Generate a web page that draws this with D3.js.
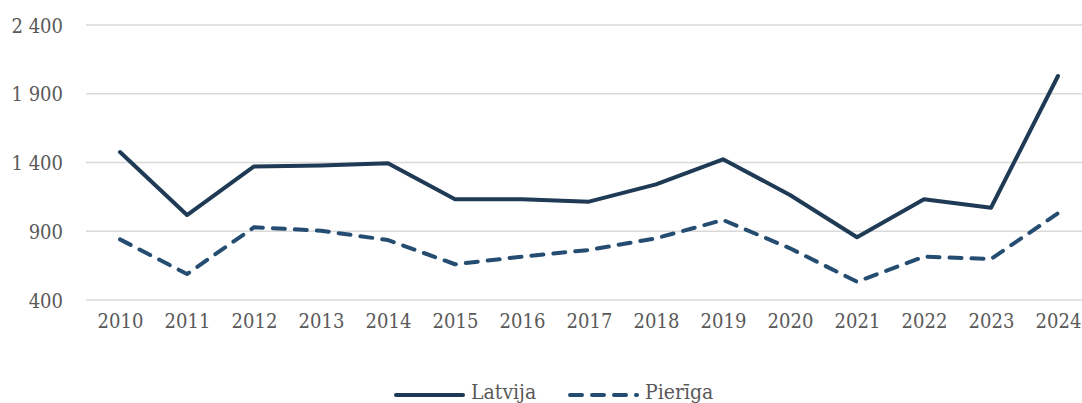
<!DOCTYPE html>
<html>
<head>
<meta charset="utf-8">
<script src="https://cdn.jsdelivr.net/npm/d3@7"></script>
<style>
  body { margin: 0; background: #fff; }
  text { font-family: "DejaVu Serif Condensed", "DejaVu Serif", serif; fill: #595959; }
</style>
</head>
<body>
<script>
var width = 1082;
var height = 403;

var years = ["2010", "2011", "2012", "2013", "2014", "2015", "2016", "2017",
  "2018", "2019", "2020", "2021", "2022", "2023", "2024"];
var latvija = [1476, 1018, 1371, 1378, 1394, 1132, 1132, 1115, 1241, 1423, 1164, 856, 1132, 1071, 2029];
var pieriga = [841, 589, 929, 904, 836, 660, 715, 764, 849, 982, 776, 533, 715, 698, 1031];
var yTicks = [400, 900, 1400, 1900, 2400];
var seriesNames = ["Latvija", "Pierīga"];

var xScale = d3.scalePoint()
               .domain(years)
               .range([120, 1058]);

var yScale = d3.scaleLinear()
               .domain([400, 2400])
               .range([300, 25]);

var svg = d3.select("body")
            .append("svg")
            .attr("width", width)
            .attr("height", height);

// gridlines
svg.append("g")
   .selectAll("line")
   .data(yTicks)
   .enter()
   .append("line")
   .attr("x1", 86)
   .attr("x2", width)
   .attr("y1", function(d){ return yScale(d); })
   .attr("y2", function(d){ return yScale(d); })
   .attr("stroke", "#d9d9d9")
   .attr("stroke-width", 1.5);

// y labels, space as thousands separator
var fmt = function(d){ return d3.format(",")(d).replace(",", " "); };

var yAxis = d3.axisLeft(yScale)
              .tickValues(yTicks)
              .tickFormat(fmt)
              .tickSize(0)
              .tickPadding(0);

svg.append("g")
   .attr("transform", "translate(63,0)")
   .call(yAxis)
   .call(function(g){ g.select(".domain").remove(); })
   .selectAll("text")
   .attr("font-size", "20px")
   .attr("fill", "#595959")
   .attr("dy", "0.35em");

var xAxis = d3.axisBottom(xScale)
              .tickSize(0)
              .tickPadding(0);

svg.append("g")
   .attr("transform", "translate(0,321)")
   .call(xAxis)
   .call(function(g){ g.select(".domain").remove(); })
   .selectAll("text")
   .attr("font-size", "20px")
   .attr("fill", "#595959")
   .attr("dy", "0.35em");

// let the css font win over the axis group's sans-serif
svg.selectAll("g").attr("font-family", null);

var line = d3.line()
             .x(function(d, i){ return xScale(years[i]); })
             .y(function(d){ return yScale(d); });

svg.append("path")
   .datum(pieriga)
   .attr("d", line)
   .attr("fill", "none")
   .attr("stroke", "#254d72")
   .attr("stroke-width", 4)
   .attr("stroke-linecap", "round")
   .attr("stroke-linejoin", "round")
   .attr("stroke-dasharray", "12,10");

svg.append("path")
   .datum(latvija)
   .attr("d", line)
   .attr("fill", "none")
   .attr("stroke", "#1f3a55")
   .attr("stroke-width", 4)
   .attr("stroke-linecap", "round")
   .attr("stroke-linejoin", "round");

// legend
var legend = svg.append("g");
var legendX = [396, 570];
var legendStyles = [
  { color: "#1f3a55", dash: null },
  { color: "#254d72", dash: "12,10" }
];

legend.selectAll("line")
      .data(seriesNames)
      .enter()
      .append("line")
      .attr("x1", function(d, i){ return legendX[i]; })
      .attr("x2", function(d, i){ return legendX[i] + 67; })
      .attr("y1", 395)
      .attr("y2", 395)
      .attr("stroke", function(d, i){ return legendStyles[i].color; })
      .attr("stroke-width", 4)
      .attr("stroke-linecap", "round")
      .attr("stroke-dasharray", function(d, i){ return legendStyles[i].dash; });

legend.selectAll("text")
      .data(seriesNames)
      .enter()
      .append("text")
      .attr("x", function(d, i){ return legendX[i] + 75; })
      .attr("y", 399)
      .attr("font-size", "21px")
      .text(function(d){ return d; });
</script>
</body>
</html>
